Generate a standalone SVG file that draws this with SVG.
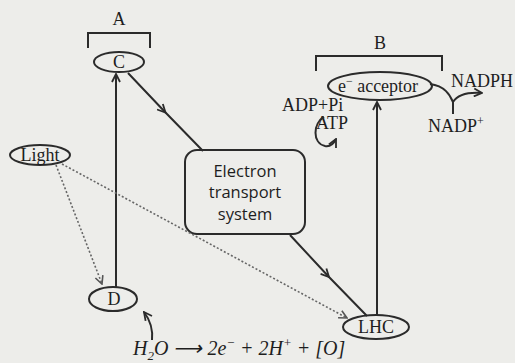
<svg xmlns="http://www.w3.org/2000/svg" width="515" height="363" viewBox="0 0 515 363">
<defs>
<marker id="ah" viewBox="0 0 10 10" refX="9" refY="5" markerWidth="10" markerHeight="10" markerUnits="userSpaceOnUse" orient="auto">
<path d="M1,1 L9,5 L1,9" fill="none" stroke="#2b2b2b" stroke-width="1.8"/>
</marker>
<marker id="ahd" viewBox="0 0 10 10" refX="9" refY="5" markerWidth="10" markerHeight="10" markerUnits="userSpaceOnUse" orient="auto">
<path d="M1,1 L9,5 L1,9" fill="none" stroke="#555" stroke-width="1.6"/>
</marker>
</defs>
<style>
.ln{fill:none;stroke:#2b2b2b;stroke-width:2}
.dt{fill:none;stroke:#666;stroke-width:1.6;stroke-dasharray:2 2}
.nd{fill:none;stroke:#2b2b2b;stroke-width:2}
.t{font-family:"Liberation Serif",serif;font-size:18px;fill:#1e1e1e}
.s{font-family:"Open Sans","Liberation Sans",sans-serif;font-size:16.5px;fill:#1e1e1e;text-anchor:middle}
.c{text-anchor:middle}
.eq{font-family:"Liberation Serif",serif;font-style:italic;font-size:20px;fill:#1e1e1e}
</style>
<rect width="515" height="363" fill="#ededea"/>
<g id="bracketA">
<path class="ln" d="M88,48 V33 H150 V48"/>
<text class="t c" x="119" y="25">A</text>
</g>
<g id="bracketB">
<path class="ln" d="M316,71 V56 H442 V71"/>
<text class="t c" x="380" y="49">B</text>
</g>
<g id="C">
<ellipse class="nd" cx="119" cy="62" rx="25" ry="10"/>
<text class="t c" x="119" y="68">C</text>
</g>
<g id="D">
<ellipse class="nd" cx="113" cy="299" rx="24" ry="12"/>
<text class="t c" x="114" y="305">D</text>
</g>
<g id="Light">
<ellipse class="nd" cx="40" cy="155" rx="30" ry="10"/>
<text class="t c" x="40" y="161">Light</text>
</g>
<g id="ETS">
<rect class="nd" x="185" y="150" width="120" height="84" rx="12"/>
<text class="s" x="245" y="177">Electron</text>
<text class="s" x="245" y="198">transport</text>
<text class="s" x="245" y="220">system</text>
</g>
<g id="LHC">
<ellipse class="nd" cx="376" cy="327" rx="33" ry="12"/>
<text class="t c" x="376" y="333">LHC</text>
</g>
<g id="acceptor">
<ellipse class="nd" cx="380" cy="86" rx="52" ry="14"/>
<text class="t c" x="378" y="92">e<tspan dy="-7" font-size="12">−</tspan><tspan dy="7"> acceptor</tspan></text>
</g>
<g id="labels">
<text class="t" x="451" y="87">NADPH</text>
<text class="t" x="428" y="132">NADP<tspan dy="-7" font-size="12">+</tspan></text>
<text class="t" x="282" y="111">ADP+Pi</text>
<text class="t" x="316" y="129">ATP</text>
<text class="eq" x="133" y="355">H<tspan dy="5" font-size="13">2</tspan><tspan dy="-5">O ⟶ 2e</tspan><tspan dy="-8" font-size="13">−</tspan><tspan dy="8"> + 2H</tspan><tspan dy="-8" font-size="13">+</tspan><tspan dy="8"> + [O]</tspan></text>
</g>
<g id="connectors">
<path class="ln" d="M116,287 V74" marker-end="url(#ah)"/>
<path class="ln" d="M128,73 L165.5,112.5 L203,151" marker-mid="url(#ah)"/>
<path class="ln" d="M290,235 L329,277 L367,316" marker-mid="url(#ah)"/>
<path class="ln" d="M377,315 V102" marker-end="url(#ah)"/>
<path class="dt" d="M56,165 L102,284" marker-end="url(#ahd)"/>
<path class="dt" d="M62,164 L347,318" marker-end="url(#ahd)"/>
<path class="ln" d="M430,84 C445,86 450,95 453,102 C458,94 468,92 482,93" marker-end="url(#ah)"/>
<path class="ln" d="M453,102 V114"/>
<path class="ln" d="M324,117 C313,123 312,143 325,146 C330,147 334,143 336,139" marker-end="url(#ah)"/>
<path class="ln" d="M152,340 C153,330 150,320 144,312" marker-end="url(#ah)"/>
</g>
</svg>
